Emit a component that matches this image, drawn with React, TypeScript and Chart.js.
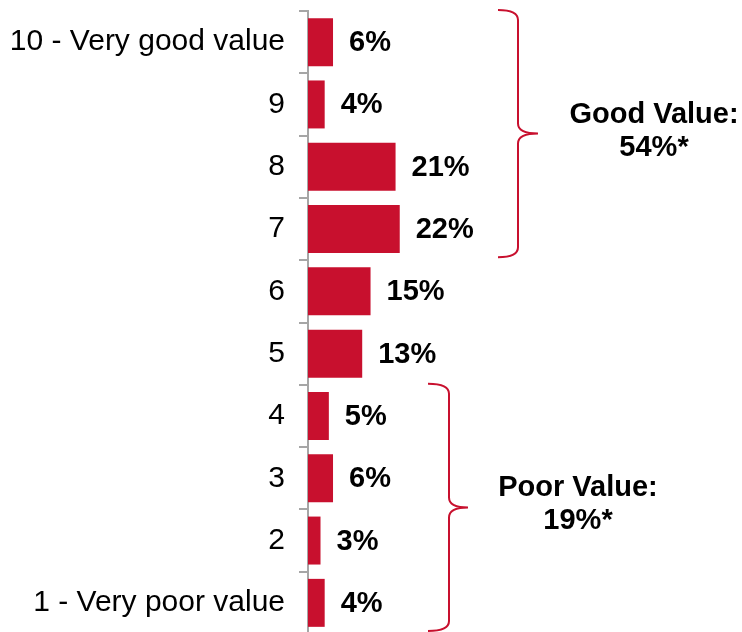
import React, { useEffect, useRef } from "react";
import { Chart, registerables } from "chart.js";

Chart.register(...registerables);

const categories = [
  "10 - Very good value",
  "9",
  "8",
  "7",
  "6",
  "5",
  "4",
  "3",
  "2",
  "1 - Very poor value",
];
const values = [6, 4, 21, 22, 15, 13, 5, 6, 3, 4];
const groupLabels = [
  { lines: ["Good Value:", "54%*"], from: 0, to: 3 },
  { lines: ["Poor Value:", "19%*"], from: 6, to: 9 },
];

const RED = "#C8102E";
const FONT = "'Liberation Sans', Arial, sans-serif";

const valueLabelPlugin = {
  id: "valueLabels",
  afterDatasetsDraw(chart: any) {
    const ctx = chart.ctx;
    const meta = chart.getDatasetMeta(0);
    ctx.save();
    ctx.font = `bold 29px ${FONT}`;
    ctx.fillStyle = "#000";
    ctx.textAlign = "left";
    ctx.textBaseline = "middle";
    meta.data.forEach((bar: any, i: number) => {
      ctx.fillText(values[i] + "%", bar.x + 16, bar.y + 1);
    });
    ctx.restore();
  },
};

const bracketPlugin = {
  id: "brackets",
  afterDraw(chart: any) {
    const ctx = chart.ctx;
    const y = chart.scales.y;
    const half = (y.getPixelForValue(1) - y.getPixelForValue(0)) / 2;
    const specs = [
      { x0: 498, x1: 518, x2: 538, tx: 654 },
      { x0: 428, x1: 449, x2: 468, tx: 578 },
    ];
    groupLabels.forEach((g, gi) => {
      const s = specs[gi];
      const top = y.getPixelForValue(g.from) - half - 1;
      const bot = y.getPixelForValue(g.to) + half - 3;
      const mid = (top + bot) / 2;
      const r = 10;
      ctx.save();
      ctx.strokeStyle = RED;
      ctx.lineWidth = 2;
      ctx.beginPath();
      ctx.moveTo(s.x0, top);
      ctx.quadraticCurveTo(s.x1, top, s.x1, top + r);
      ctx.lineTo(s.x1, mid - r);
      ctx.quadraticCurveTo(s.x1, mid, s.x2, mid);
      ctx.quadraticCurveTo(s.x1, mid, s.x1, mid + r);
      ctx.lineTo(s.x1, bot - r);
      ctx.quadraticCurveTo(s.x1, bot, s.x0, bot);
      ctx.stroke();
      ctx.font = `bold 29px ${FONT}`;
      ctx.fillStyle = "#000";
      ctx.textAlign = "center";
      ctx.textBaseline = "middle";
      ctx.fillText(g.lines[0], s.tx, mid - 19);
      ctx.fillText(g.lines[1], s.tx, mid + 14);
      ctx.restore();
    });
  },
};

export default function App() {
  const ref = useRef<HTMLCanvasElement>(null);
  useEffect(() => {
    if (!ref.current) return;
    const chart = new Chart(ref.current, {
      type: "bar",
      data: {
        labels: categories,
        datasets: [
          {
            data: values,
            backgroundColor: RED,
            barPercentage: 0.77,
            categoryPercentage: 1,
          },
        ],
      },
      options: {
        indexAxis: "y",
        animation: false,
        responsive: false,
        maintainAspectRatio: false,
        layout: { padding: { top: 11, bottom: 6, right: 17, left: 0 } },
        plugins: {
          legend: { display: false },
          tooltip: { enabled: false },
        },
        scales: {
          x: { display: false, min: 0, max: 100 },
          y: {
            afterFit(scale: any) {
              scale.width = 308;
              scale.paddingTop = 0;
              scale.paddingBottom = 0;
            },
            grid: {
              display: true,
              offset: true,
              drawOnChartArea: false,
              drawTicks: true,
              tickLength: 9,
              color: "#A6A6A6",
              lineWidth: 2,
            },
            border: { display: true, color: "#A6A6A6", width: 2 },
            ticks: {
              color: "#000",
              padding: 14,
              font: { family: FONT, size: 30 },
            },
          },
        },
      },
      plugins: [valueLabelPlugin, bracketPlugin],
    });
    return () => chart.destroy();
  }, []);
  return (
    <div style={{ position: "absolute", left: 0, top: 0 }}>
      <canvas ref={ref} width={742} height={640} style={{ display: "block" }} />
    </div>
  );
}
